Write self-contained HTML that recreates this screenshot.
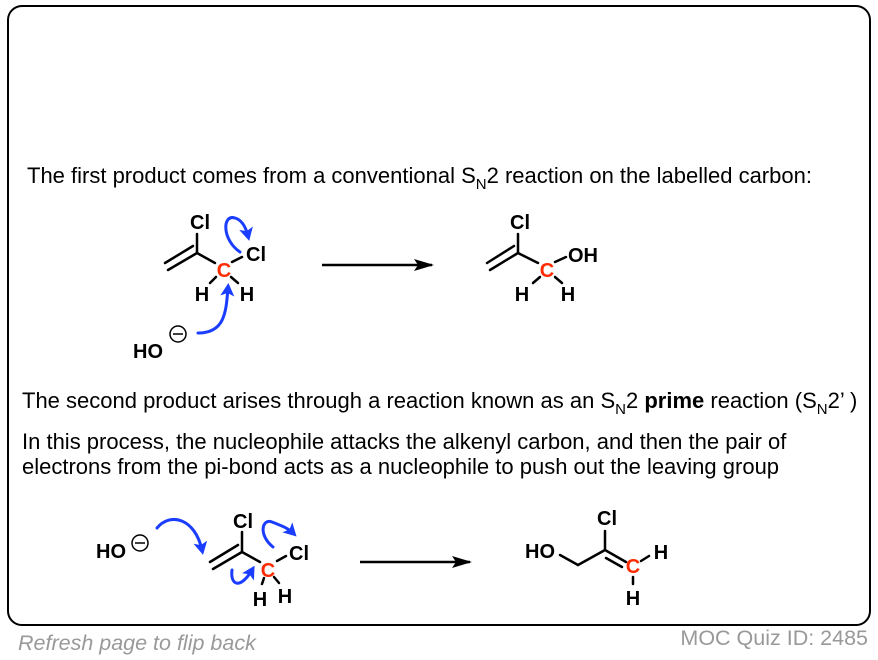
<!DOCTYPE html>
<html><head><meta charset="utf-8"><style>
html,body{margin:0;padding:0;background:#fff;}
svg{display:block;font-family:"Liberation Sans",Arial,sans-serif;}
.b{font-weight:bold;font-size:20px;}
.t{font-size:22px;}
</style></head><body>
<svg width="878" height="660" viewBox="0 0 878 660" xmlns="http://www.w3.org/2000/svg">
<defs>
<marker id="ah" markerWidth="14" markerHeight="14" refX="8" refY="7" orient="auto" markerUnits="userSpaceOnUse"><path d="M0,0 L13,7 L0,14 L3,7z" fill="#1a3dff"/></marker>
<marker id="bk" markerWidth="20" markerHeight="12" refX="18" refY="6" orient="auto" markerUnits="userSpaceOnUse"><path d="M0,0 L20,6 L0,12 L4,6z" fill="#000"/></marker>
</defs>
<rect x="8" y="6" width="862" height="619" rx="14" fill="#fff" stroke="#000" stroke-width="2"/>

<text class="t" x="27" y="183">The first product comes from a conventional S<tspan font-size="15" dy="6">N</tspan><tspan dy="-6">2 reaction on the labelled carbon:</tspan></text>
<text class="t" x="22" y="408">The second product arises through a reaction known as an S<tspan font-size="15" dy="6">N</tspan><tspan dy="-6">2 </tspan><tspan font-weight="bold">prime</tspan>  reaction (S<tspan font-size="15" dy="6">N</tspan><tspan dy="-6">2’ )</tspan></text>
<text class="t" x="22" y="449">In this process, the nucleophile attacks the alkenyl carbon, and then the pair of</text>
<text class="t" x="22" y="474">electrons from the pi-bond acts as a nucleophile to push out the leaving group</text>

<text x="18" y="650" font-size="21.5" font-style="italic" fill="#999">Refresh page to flip back</text>
<text x="868" y="645" font-size="21.5" fill="#999" text-anchor="end">MOC Quiz ID: 2485</text>

<g stroke="#000" stroke-width="2.5" fill="none" stroke-linecap="round">
<line x1="197" y1="234" x2="197" y2="253"/>
<line x1="197" y1="253" x2="168" y2="270"/>
<line x1="193" y1="246" x2="165" y2="263"/>
<line x1="197" y1="253" x2="215" y2="263"/>
<line x1="232" y1="262" x2="242" y2="257"/>
<line x1="216" y1="277" x2="210" y2="283"/>
<line x1="231" y1="277" x2="238" y2="283"/>
<line x1="518" y1="234" x2="518" y2="253"/>
<line x1="518" y1="253" x2="490" y2="270"/>
<line x1="514" y1="246" x2="487" y2="263"/>
<line x1="518" y1="253" x2="538" y2="263"/>
<line x1="555" y1="262" x2="566" y2="257"/>
<line x1="540" y1="277" x2="533" y2="283"/>
<line x1="555" y1="277" x2="562" y2="283"/>
<line x1="242" y1="532" x2="242" y2="552"/>
<line x1="242" y1="552" x2="213" y2="569"/>
<line x1="238" y1="545" x2="210" y2="562"/>
<line x1="242" y1="552" x2="260" y2="562"/>
<line x1="277" y1="561" x2="286" y2="556"/>
<line x1="264" y1="578" x2="262" y2="584"/>
<line x1="274" y1="577" x2="279" y2="583"/>
<line x1="560" y1="555" x2="578" y2="565"/>
<line x1="578" y1="565" x2="605" y2="550"/>
<line x1="605" y1="550" x2="605" y2="531"/>
<line x1="605" y1="550" x2="626" y2="562"/>
<line x1="606" y1="558" x2="622" y2="567"/>
<line x1="641" y1="561" x2="649" y2="556"/>
<line x1="633" y1="577" x2="633" y2="584"/>
</g>
<line x1="322" y1="265" x2="432" y2="265" stroke="#000" stroke-width="2.5" marker-end="url(#bk)"/>
<line x1="360" y1="562" x2="470" y2="562" stroke="#000" stroke-width="2.5" marker-end="url(#bk)"/>

<g class="b">
<text x="200" y="229" text-anchor="middle">Cl</text>
<text x="256" y="261" text-anchor="middle">Cl</text>
<text x="224" y="277" text-anchor="middle" fill="#ff2a00">C</text>
<text x="202" y="301" text-anchor="middle">H</text>
<text x="247" y="301" text-anchor="middle">H</text>
<text x="133" y="358">HO</text>

<text x="520" y="229" text-anchor="middle">Cl</text>
<text x="583" y="262" text-anchor="middle">OH</text>
<text x="547" y="277" text-anchor="middle" fill="#ff2a00">C</text>
<text x="522" y="301" text-anchor="middle">H</text>
<text x="568" y="301" text-anchor="middle">H</text>

<text x="96" y="558">HO</text>
<text x="243" y="528" text-anchor="middle">Cl</text>
<text x="299" y="560" text-anchor="middle">Cl</text>
<text x="268" y="577" text-anchor="middle" fill="#ff2a00">C</text>
<text x="260" y="606" text-anchor="middle">H</text>
<text x="285" y="603" text-anchor="middle">H</text>

<text x="525" y="558">HO</text>
<text x="607" y="525" text-anchor="middle">Cl</text>
<text x="633" y="573" text-anchor="middle" fill="#ff2a00">C</text>
<text x="661" y="559" text-anchor="middle">H</text>
<text x="633" y="605" text-anchor="middle">H</text>
</g>
<g stroke="#000" stroke-width="1.5" fill="none">
<circle cx="178" cy="334" r="8"/><line x1="173" y1="334" x2="183" y2="334"/>
<circle cx="140" cy="543" r="8"/><line x1="135" y1="543" x2="145" y2="543"/>
</g>
<g stroke="#1a3dff" stroke-width="3" fill="none" stroke-linecap="round">
<path d="M240,252 C222,240 222,214 235,218 C242,220 246,228 248,236" marker-end="url(#ah)"/>
<path d="M198,333 C225,333 226,312 228,288" marker-end="url(#ah)"/>
<path d="M157,528 C170,512 195,518 202,550" marker-end="url(#ah)"/>
<path d="M273,547 C258,535 262,518 272,522 C282,526 288,528 293,533" marker-end="url(#ah)"/>
<path d="M232,570 C230,585 240,590 252,570" marker-end="url(#ah)"/>
</g>
</svg>
</body></html>
